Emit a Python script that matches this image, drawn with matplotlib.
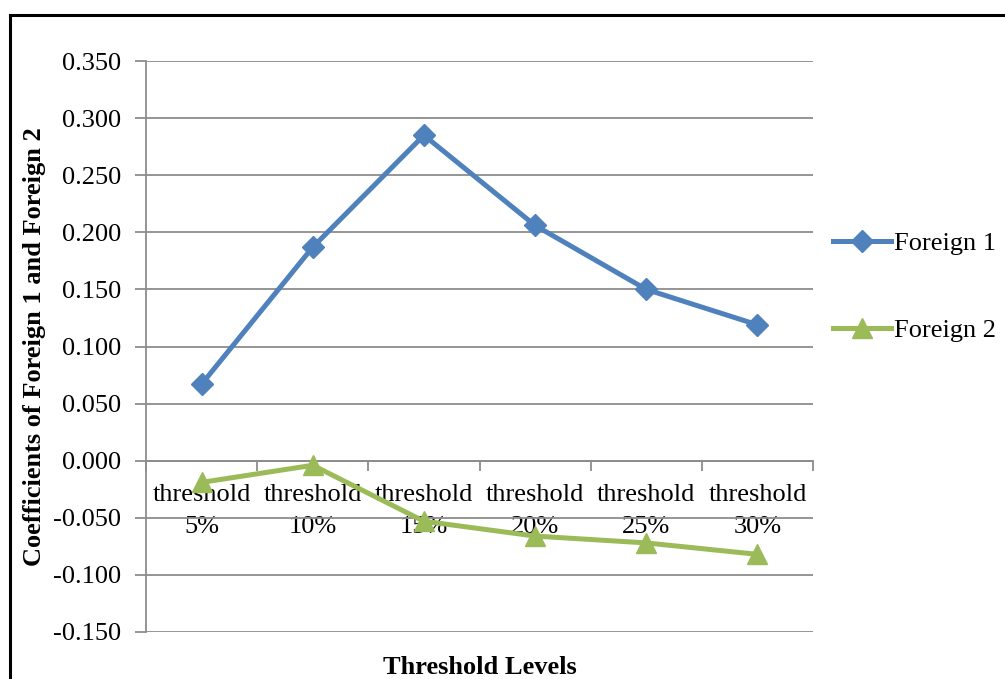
import matplotlib
matplotlib.use("Agg")
import matplotlib.pyplot as plt
from matplotlib.lines import Line2D
import numpy as np

categories = ["threshold\n5%", "threshold\n10%", "threshold\n15%", "threshold\n20%", "threshold\n25%", "threshold\n30%"]
foreign1 = [0.067, 0.187, 0.285, 0.206, 0.150, 0.119]
foreign2 = [-0.019, -0.004, -0.053, -0.066, -0.072, -0.082]
yticks = [-0.15, -0.10, -0.05, 0.0, 0.05, 0.10, 0.15, 0.20, 0.25, 0.30, 0.35]

plt.rcParams['font.family'] = ['Liberation Serif', 'DejaVu Serif']
FS = 19
GRID = '#8c8c8c'

fig = plt.figure(figsize=(10.05, 6.79), dpi=100)
ax = fig.add_axes([146/1005, 1-632/679, (813-146)/1005, (632-61)/679])

x = np.arange(len(categories))
ax.plot(x, foreign1, color='#4F81BD', lw=3.6, marker='D', ms=11, label='Foreign 1', zorder=3)
ax.plot(x, foreign2, color='#9BBB59', lw=3.6, marker='^', ms=14, label='Foreign 2', zorder=3)

ax.set_xlim(-0.5, len(categories)-0.5)
ax.set_ylim(-0.15, 0.35)
ax.set_yticks(yticks)
ax.set_yticklabels([f"{v:.3f}" for v in yticks], fontsize=FS)
ax.yaxis.grid(True, color=GRID, lw=1.3)
ax.set_axisbelow(True)

for s in ['top', 'right']:
    ax.spines[s].set_visible(False)
ax.spines['left'].set_color(GRID)
ax.spines['left'].set_linewidth(1.3)
ax.spines['bottom'].set_position(('data', 0))
ax.spines['bottom'].set_color(GRID)
ax.spines['bottom'].set_linewidth(1.3)

ax.set_xticks(np.arange(-0.5, len(categories), 1.0))
ax.set_xticklabels([])
ax.set_xticks(x, minor=True)
ax.set_xticklabels(categories, minor=True, fontsize=FS, linespacing=1.55)
ax.tick_params(axis='x', which='major', direction='out', length=7, width=1.3, color=GRID)
ax.tick_params(axis='x', which='minor', length=0, pad=17)
ax.tick_params(axis='y', direction='out', length=8, width=1.3, color=GRID, pad=10)

ax.set_ylabel('Coefficients of Foreign 1 and Foreign 2', fontsize=FS, fontweight='bold')
ax.yaxis.set_label_coords(-0.150, 0.5)
fig.text(480/1005, 1-667/679, 'Threshold Levels', fontsize=FS, fontweight='bold', ha='center', va='center')

fig.legend(loc='upper left', bbox_to_anchor=(833/1005, 1-232/679), frameon=False,
           fontsize=FS, handlelength=2.2, handletextpad=0.1, labelspacing=2.4, borderpad=0,
           borderaxespad=0)

fig.add_artist(Line2D([10/1005, 10/1005], [0, 1-15/679], color='black', lw=2.2, transform=fig.transFigure))
fig.add_artist(Line2D([10/1005, 1.0], [1-15/679, 1-15/679], color='black', lw=2.2, transform=fig.transFigure))

fig.savefig('out.png', dpi=100)
